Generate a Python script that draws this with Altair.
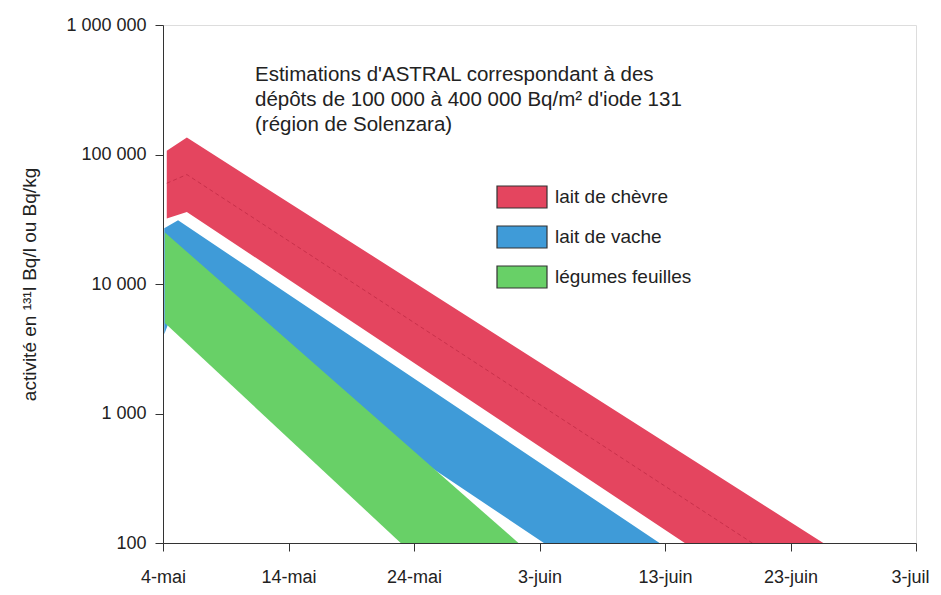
import json
import altair as alt
import pandas as pd

# ---- data ----
series = ["lait de chèvre", "lait de vache", "légumes feuilles"]
colors = ["#e4455f", "#3f9bd8", "#68d067"]

red_days = [0.3, 1.9, 60]
red_low = [32000, 36000, 6.5]
red_high = [107000, 135000, 35]

blue_days = [0.1, 1.2, 50]
blue_low = [4100, 7800, 5.3]
blue_high = [27000, 31000, 21]

green_days = [0.15, 30]
green_low = [5000, 10]
green_high = [25000, 72]

median_days = [0.3, 1.9, 60]
median_vals = [60000, 70000, 15]

x_ticks = [0, 10, 20, 30, 40, 50, 60]
x_labels = ["4-mai", "14-mai", "24-mai", "3-juin", "13-juin", "23-juin", "3-juil"]
y_ticks = [100, 1000, 10000, 100000, 1000000]
y_labels = ["100", "1 000", "10 000", "100 000", "1 000 000"]

annotation = [
    "Estimations d'ASTRAL correspondant à des",
    "dépôts de 100 000 à 400 000 Bq/m² d'iode 131",
    "(région de Solenzara)",
]
y_title = "activité en ¹³¹I Bq/l ou Bq/kg"

rows = []
for name, d, lo, hi in [
    (series[0], red_days, red_low, red_high),
    (series[1], blue_days, blue_low, blue_high),
    (series[2], green_days, green_low, green_high),
]:
    for a, b, c in zip(d, lo, hi):
        rows.append({"serie": name, "day": a, "low": b, "high": c})
bands = pd.DataFrame(rows)
median = pd.DataFrame({"day": median_days, "val": median_vals})

FONT = "Liberation Sans"

x_scale = alt.Scale(domain=[0, 60], nice=False, zero=False)
y_scale = alt.Scale(type="log", domain=[100, 1000000], nice=False)

x_axis = alt.Axis(
    values=x_ticks,
    labelExpr=json.dumps(x_labels) + "[round(datum.value/10)]",
    title=None, grid=False, tickSize=8, labelPadding=17,
    labelFontSize=18, labelFont=FONT, labelColor="#222",
    domainColor="#333", tickColor="#333", labelFlush=False,
    labelOffset={"condition": {"test": "datum.value >= 60", "value": -6}, "value": 0},
)
y_axis = alt.Axis(
    values=y_ticks,
    labelExpr=json.dumps(y_labels) + "[round(log(datum.value)/log(10))-2]",
    title=y_title, titleFontSize=19, titleFont=FONT, titleFontWeight="normal",
    titleColor="#222", titlePadding=26,
    grid=False, tickSize=8, labelPadding=9,
    labelFontSize=18, labelFont=FONT, labelColor="#222",
    domainColor="#333", tickColor="#333", labelFlush=False, labelOverlap=False,
)

area = alt.Chart(bands).mark_area(clip=True, opacity=1).encode(
    x=alt.X("day:Q", scale=x_scale, axis=x_axis),
    y=alt.Y("low:Q", scale=y_scale, axis=y_axis),
    y2="high:Q",
    color=alt.Color(
        "serie:N",
        scale=alt.Scale(domain=series, range=colors),
        sort=series,
        legend=alt.Legend(
            title=None, orient="none", legendX=333, legendY=146,
            symbolType="M-1,-0.44L1,-0.44L1,0.44L-1,0.44Z",
            symbolSize=2500, symbolStrokeColor="#333", symbolStrokeWidth=1.2,
            symbolOpacity=1, labelFontSize=19, labelFont=FONT, labelColor="#222",
            labelOffset=7, rowPadding=-12,
        ),
    ),
    order=alt.Order("serie:N", sort="ascending"),
)

med = alt.Chart(median).mark_line(
    clip=True, color="#c02a45", strokeWidth=1, strokeDash=[4, 3], opacity=0.8
).encode(
    x=alt.X("day:Q", scale=x_scale),
    y=alt.Y("val:Q", scale=y_scale),
)

note = alt.Chart(pd.DataFrame({"a": [0]})).mark_text(
    align="left", baseline="top", fontSize=20.5, font=FONT, lineHeight=25,
    color="#222", text=annotation,
).encode(x=alt.value(92), y=alt.value(40))

chart = alt.layer(area, med, note).properties(
    width=753, height=518,
    autosize=alt.AutoSizeParams(type="none"),
    padding={"left": 155, "top": 17, "right": 17, "bottom": 44},
).configure_view(stroke=None).configure(background="white")

chart.save("out.html", embed_options={"renderer": "svg", "actions": False})
